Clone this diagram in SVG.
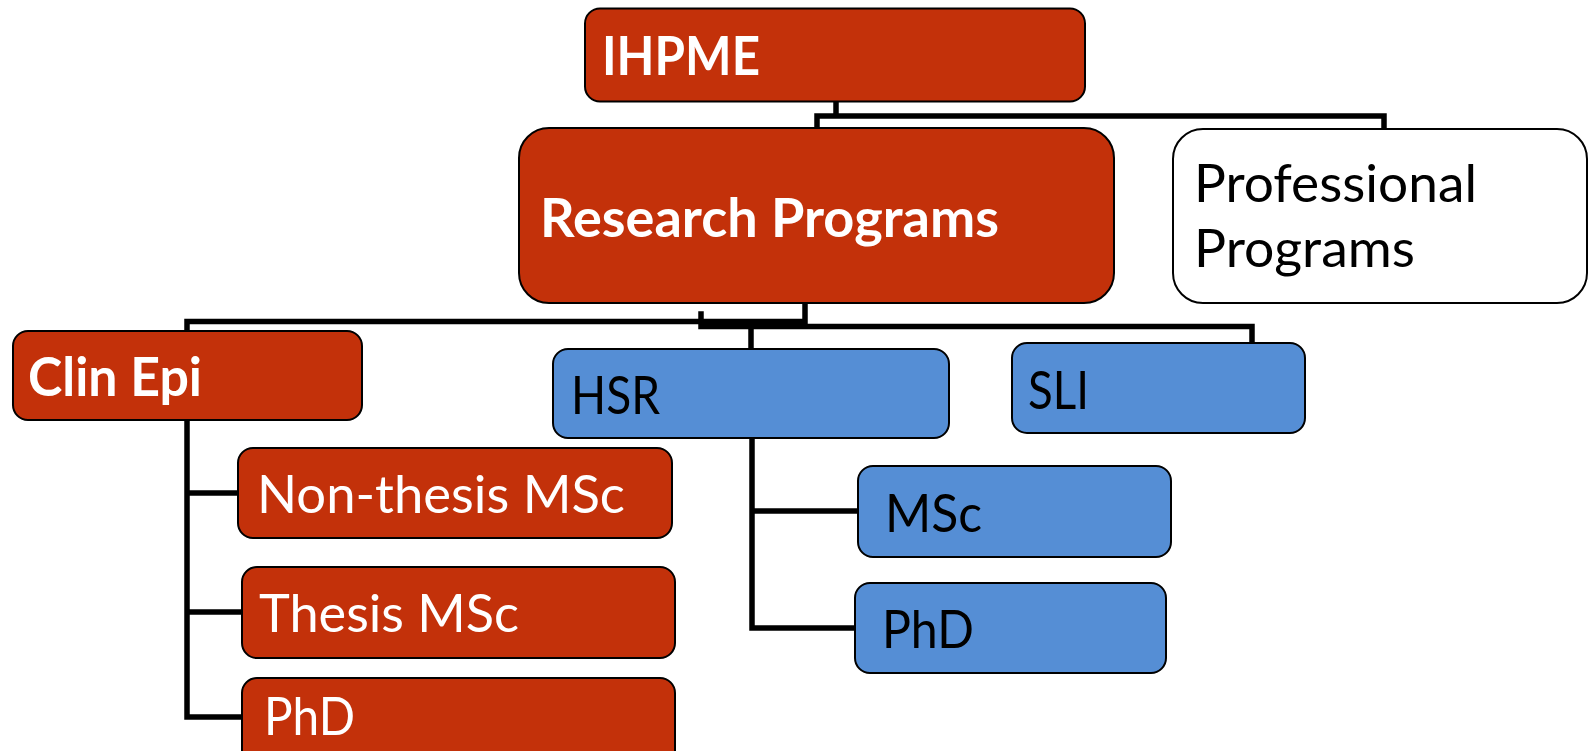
<svg xmlns="http://www.w3.org/2000/svg" width="1589" height="751" viewBox="0 0 1589 751">
<style>
.red{fill:#C3310A;stroke:#000;stroke-width:2}
.blue{fill:#558ED5;stroke:#000;stroke-width:2}
.white{fill:#fff;stroke:#000;stroke-width:2}
.t{font-family:Lato,"Open Sans","Liberation Sans",sans-serif;font-size:53px}
.b{font-weight:bold}
.w{fill:#fff}
.k{fill:#000}
.conn{fill:none;stroke:#000;stroke-width:5.5;stroke-linecap:square;stroke-linejoin:miter}
</style>
<rect width="1589" height="751" fill="#fff"/>
<g id="connectors" class="conn">
<path d="M836,102 V116 M817,128 V116 H1384 V128"/>
<path d="M805,304 V321.5 H187 V717 H242 M187,493 H238 M187,612 H242"/>
<path d="M701,314 V326.5 H1252 V341 M751,326.5 V349"/>
<path d="M752,439 V628 H855 M752,511 H858"/>
</g>
<g id="ihpme"><rect class="red" x="585" y="8.5" width="500" height="93" rx="15"/><text class="t b w" x="602" y="75" textLength="158" lengthAdjust="spacingAndGlyphs">IHPME</text></g>
<g id="research"><rect class="red" x="519" y="128" width="595" height="175" rx="30"/><text class="t b w" x="540" y="237" textLength="459" lengthAdjust="spacingAndGlyphs">Research Programs</text></g>
<g id="professional"><rect class="white" x="1173" y="129" width="414" height="174" rx="30"/><text class="t k" x="1194" y="202" textLength="283" lengthAdjust="spacingAndGlyphs">Professional</text><text class="t k" x="1194" y="267" textLength="221" lengthAdjust="spacingAndGlyphs">Programs</text></g>
<g id="clinepi"><rect class="red" x="13" y="331" width="349" height="89" rx="15"/><text class="t b w" x="28" y="396" textLength="174" lengthAdjust="spacingAndGlyphs">Clin Epi</text></g>
<g id="hsr"><rect class="blue" x="553" y="349" width="396" height="89" rx="15"/><text class="t k" x="571" y="414" textLength="89" lengthAdjust="spacingAndGlyphs">HSR</text></g>
<g id="sli"><rect class="blue" x="1012" y="343" width="293" height="90" rx="15"/><text class="t k" x="1028" y="409" textLength="61" lengthAdjust="spacingAndGlyphs">SLI</text></g>
<g id="nonthesis"><rect class="red" x="238" y="448" width="434" height="90" rx="15"/><text class="t w" x="257" y="513" textLength="368" lengthAdjust="spacingAndGlyphs">Non-thesis MSc</text></g>
<g id="thesis"><rect class="red" x="242" y="567" width="433" height="91" rx="15"/><text class="t w" x="259" y="632" textLength="260" lengthAdjust="spacingAndGlyphs">Thesis MSc</text></g>
<g id="clinphd"><rect class="red" x="242" y="678" width="433" height="90" rx="15"/><text class="t w" x="264" y="735" textLength="91" lengthAdjust="spacingAndGlyphs">PhD</text></g>
<g id="msc"><rect class="blue" x="858" y="466" width="313" height="91" rx="15"/><text class="t k" x="885" y="532" textLength="97" lengthAdjust="spacingAndGlyphs">MSc</text></g>
<g id="hsrphd"><rect class="blue" x="855" y="583" width="311" height="90" rx="15"/><text class="t k" x="882" y="648" textLength="92" lengthAdjust="spacingAndGlyphs">PhD</text></g>
</svg>
